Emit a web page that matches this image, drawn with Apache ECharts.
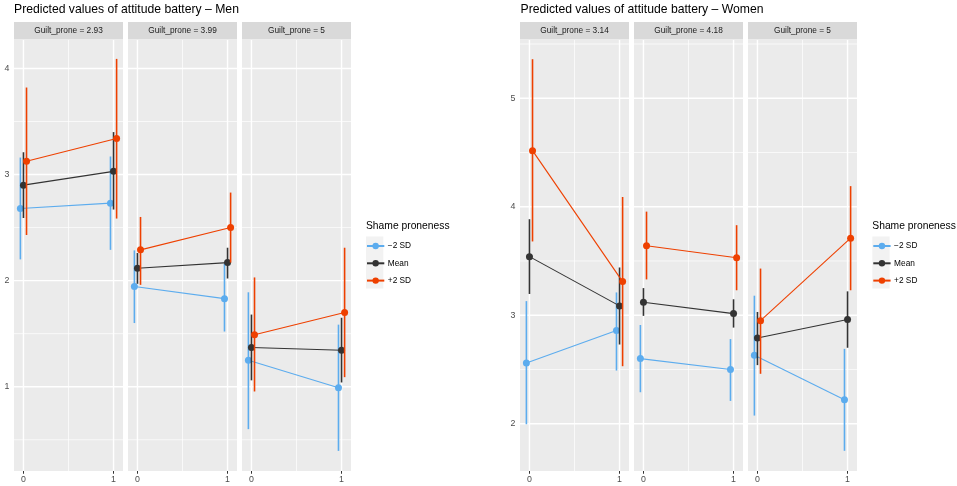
<!DOCTYPE html>
<html>
<head>
<meta charset="utf-8">
<script src="https://cdn.jsdelivr.net/npm/echarts@6/dist/echarts.min.js"></script>
<style>
html,body{margin:0;padding:0;background:#fff;}
#c{width:957px;height:486px;}
</style>
</head>
<body>
<div id="c"></div>
<script>
// ---------------- DATA ----------------
const xValues = [0, 1];
const xTickLabels = ['0', '1'];
const groups = ['\u22122 SD', 'Mean', '+2 SD'];

const menTitle = 'Predicted values of attitude battery \u2013 Men';
const womenTitle = 'Predicted values of attitude battery \u2013 Women';
const menFacets = ['Guilt_prone = 2.93', 'Guilt_prone = 3.99', 'Guilt_prone = 5'];
const womenFacets = ['Guilt_prone = 3.14', 'Guilt_prone = 4.18', 'Guilt_prone = 5'];
const legendTitle = 'Shame proneness';

// Men: [facet][group] -> values at x = 0, 1
const menPred = [
  [[2.68, 2.73], [2.90, 3.03], [3.125, 3.34]],
  [[1.945, 1.83], [2.116, 2.17], [2.29, 2.50]],
  [[1.25, 0.99], [1.37, 1.343], [1.49, 1.70]]
];
const menLow = [
  [[2.20, 2.29], [2.59, 2.67], [2.43, 2.585]],
  [[1.60, 1.52], [1.97, 2.02], [1.96, 2.17]],
  [[0.60, 0.395], [1.06, 1.04], [0.955, 1.09]]
];
const menHigh = [
  [[3.16, 3.17], [3.21, 3.40], [3.82, 4.09]],
  [[2.285, 2.16], [2.26, 2.31], [2.60, 2.83]],
  [[1.89, 1.585], [1.68, 1.65], [2.03, 2.31]]
];

// Women
const womenPred = [
  [[2.56, 2.86], [3.54, 3.086], [4.517, 3.31]],
  [[2.60, 2.50], [3.12, 3.015], [3.64, 3.53]],
  [[2.63, 2.22], [2.79, 2.96], [2.95, 3.71]]
];
const womenLow = [
  [[1.995, 2.49], [3.196, 2.73], [3.68, 2.53]],
  [[2.29, 2.21], [2.994, 2.886], [3.33, 3.23]],
  [[2.075, 1.75], [2.54, 2.70], [2.46, 3.23]]
];
const womenHigh = [
  [[3.13, 3.21], [3.885, 3.44], [5.36, 4.09]],
  [[2.91, 2.78], [3.25, 3.147], [3.955, 3.83]],
  [[3.18, 2.69], [3.03, 3.22], [3.43, 4.19]]
];

// axis ticks
const menYTicks = [1, 2, 3, 4];
const menYMinor = [0.5, 1.5, 2.5, 3.5];
const womenYTicks = [2, 3, 4, 5];
const womenYMinor = [1.5, 2.5, 3.5, 4.5, 5.5];
const xMinor = [0.5];

// ---------------- STYLE / LAYOUT ----------------
const colors = ['#5CACEE', '#333333', '#EE4000'];
const FONT = '"Liberation Sans", Arial, Helvetica, sans-serif';
const dodge = [-0.034, 0, 0.034];
const panelW = 109, panelTop = 40, panelH = 431;
const panelLefts = [14, 128, 242, 520, 634, 748];
const menRange = [0.2055, 4.268];
const womenRange = [1.564, 5.537];
const xRange = [-0.105, 1.105];

const grids = [], xAxes = [], yAxes = [], series = [], graphics = [];

function buildPanel(idx, pred, low, high, yRange, yTicks, yMinor, showY, stripText) {
  grids.push({left: panelLefts[idx], top: panelTop, width: panelW, height: panelH,
    show: true, backgroundColor: '#EBEBEB', borderWidth: 0, containLabel: false});
  xAxes.push({gridIndex: idx, type: 'value', min: xRange[0], max: xRange[1],
    axisLine: {show: false}, splitLine: {show: false},
    axisTick: {show: true, customValues: xValues, length: 2.75, lineStyle: {color: '#333333', width: 1}},
    axisLabel: {show: true, customValues: xValues, formatter: v => xTickLabels[xValues.indexOf(v)],
      fontSize: 8.8, color: '#4D4D4D', fontFamily: FONT, margin: 4.5}});
  yAxes.push({gridIndex: idx, type: 'value', min: yRange[0], max: yRange[1],
    axisLine: {show: false}, splitLine: {show: false},
    axisTick: {show: showY, customValues: yTicks, length: 2.75, lineStyle: {color: '#333333', width: 1}},
    axisLabel: {show: showY, customValues: yTicks, fontSize: 8.8, color: '#4D4D4D', fontFamily: FONT, margin: 4.5}});

  // gridlines: [direction, value, kind]
  const gl = [];
  yMinor.forEach(v => gl.push([0, v, 1]));
  xMinor.forEach(v => gl.push([1, v, 1]));
  yTicks.forEach(v => gl.push([0, v, 0]));
  xValues.forEach(v => gl.push([1, v, 0]));
  series.push({type: 'custom', xAxisIndex: idx, yAxisIndex: idx, z: 1, silent: true,
    data: gl,
    renderItem: function (params, api) {
      const cs = params.coordSys;
      const dir = api.value(0), v = api.value(1), kind = api.value(2);
      let shape;
      if (dir === 0) {
        const y = api.coord([0, v])[1];
        if (y < cs.y || y > cs.y + cs.height) return null;
        shape = {x1: cs.x, y1: y, x2: cs.x + cs.width, y2: y};
      } else {
        const x = api.coord([v, yRange[0]])[0];
        shape = {x1: x, y1: cs.y, x2: x, y2: cs.y + cs.height};
      }
      return {type: 'line', shape: shape,
        style: {stroke: '#FFFFFF', lineWidth: kind === 0 ? 1.4 : 0.7}};
    }});

  groups.forEach((g, gi) => {
    // error bars
    series.push({type: 'custom', xAxisIndex: idx, yAxisIndex: idx, z: 3 + gi, silent: true,
      data: xValues.map((x, k) => [x + dodge[gi], low[gi][k], high[gi][k]]),
      renderItem: function (params, api) {
        const p1 = api.coord([api.value(0), api.value(1)]);
        const p2 = api.coord([api.value(0), api.value(2)]);
        return {type: 'line', shape: {x1: p1[0], y1: p1[1], x2: p2[0], y2: p2[1]},
          style: {stroke: colors[gi], lineWidth: 1.6}};
      }});
    // line + points
    series.push({type: 'line', name: g, xAxisIndex: idx, yAxisIndex: idx, z: 3 + gi,
      data: xValues.map((x, k) => [x + dodge[gi], pred[gi][k]]),
      symbol: 'circle', symbolSize: 7, showSymbol: true,
      lineStyle: {color: colors[gi], width: 1.1},
      itemStyle: {color: colors[gi]}});
  });

  graphics.push({type: 'rect', shape: {x: panelLefts[idx], y: 22, width: panelW, height: 17.5},
    style: {fill: '#D9D9D9'}, silent: true});
  graphics.push({type: 'text', x: panelLefts[idx] + panelW / 2, y: 31,
    style: {text: stripText, fontSize: 8.3, fill: '#1A1A1A', fontFamily: FONT,
      align: 'center', verticalAlign: 'middle'}, silent: true});
}

for (let f = 0; f < 3; f++) {
  buildPanel(f, menPred[f], menLow[f], menHigh[f], menRange, menYTicks, menYMinor, f === 0, menFacets[f]);
}
for (let f = 0; f < 3; f++) {
  buildPanel(3 + f, womenPred[f], womenLow[f], womenHigh[f], womenRange, womenYTicks, womenYMinor, f === 0, womenFacets[f]);
}

// titles
graphics.push({type: 'text', x: 14, y: 9.6, style: {text: menTitle, fontSize: 12.2, fill: '#000',
  fontFamily: FONT, verticalAlign: 'middle'}});
graphics.push({type: 'text', x: 520.5, y: 9.6, style: {text: womenTitle, fontSize: 12.2, fill: '#000',
  fontFamily: FONT, verticalAlign: 'middle'}});

// legends
const legendX = [366, 872.3];
const legends = legendX.map(x => ({
  left: x, top: 242, orient: 'vertical', itemWidth: 17.3, itemHeight: 8, itemGap: 9.3,
  padding: 0, data: groups, selectedMode: false,
  textStyle: {fontSize: 8.3, color: '#000', fontFamily: FONT, padding: [0, 0, 0, -1.5]}
}));
legendX.forEach(x => {
  graphics.push({type: 'rect', z: -1, shape: {x: x, y: 236.5, width: 17.3, height: 52}, style: {fill: '#F2F2F2'}});
  graphics.push({type: 'text', x: x, y: 225.7, style: {text: legendTitle, fontSize: 10.3, fill: '#000',
    fontFamily: FONT, verticalAlign: 'middle'}});
});

const chart = echarts.init(document.getElementById('c'), null, {renderer: 'canvas'});
chart.setOption({
  animation: false,
  backgroundColor: '#FFFFFF',
  grid: grids, xAxis: xAxes, yAxis: yAxes, series: series,
  legend: legends,
  graphic: graphics
});
</script>
</body>
</html>
